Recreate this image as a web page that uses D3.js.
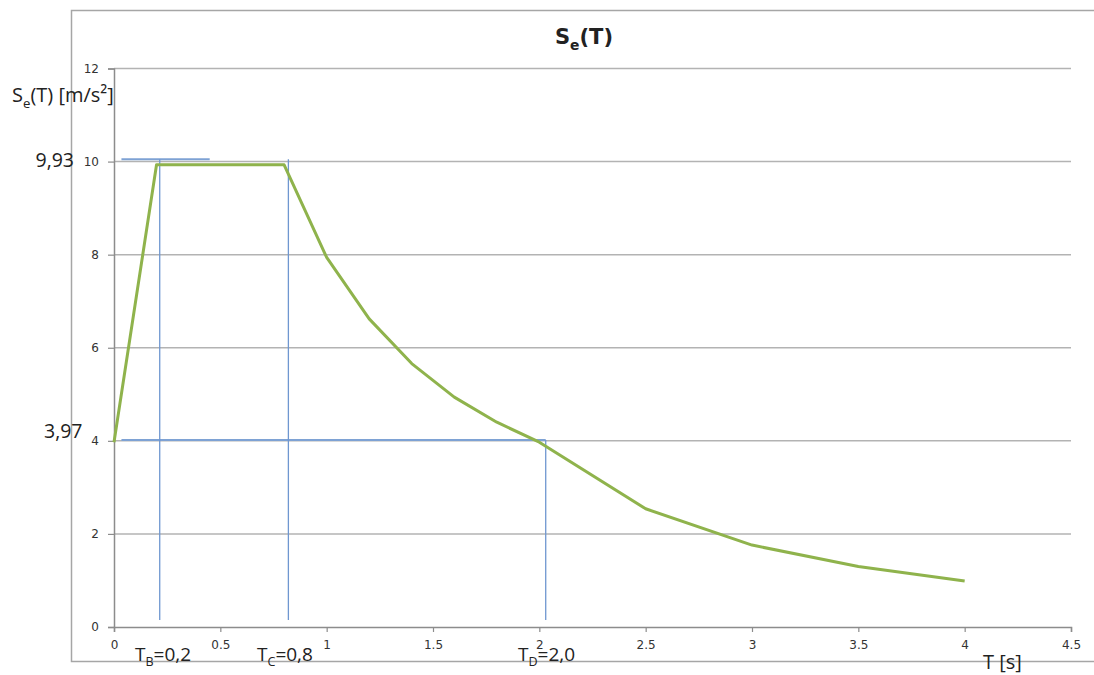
<!DOCTYPE html>
<html>
<head>
<meta charset="utf-8">
<script src="https://cdn.jsdelivr.net/npm/d3@7"></script>
<style>
  html, body { margin: 0; padding: 0; background: #fff; }
  svg { display: block; }
</style>
</head>
<body>
<svg id="chart" width="1094" height="675"></svg>
<script>
// Elastic response spectrum Se(T)
const periods = [0, 0.2, 0.8, 1.0, 1.2, 1.4, 1.6, 1.8, 2.0, 2.5, 3.0, 3.5, 4.0];
const seValues = [3.97, 9.93, 9.93, 7.94, 6.62, 5.66, 4.94, 4.40, 3.97, 2.54, 1.76, 1.30, 0.99];
const xTicks = [0, 0.5, 1, 1.5, 2, 2.5, 3, 3.5, 4, 4.5];
const yTicks = [0, 2, 4, 6, 8, 10, 12];

// blue guide lines (corner periods TB, TC, TD)
const guideH = [
  { y: 10.05, x0: 0.035, x1: 0.45 },
  { y: 4.02, x0: 0.035, x1: 2.03 }
];
const guideV = [
  { x: 0.215, y0: 0.15, y1: 10.05 },
  { x: 0.82, y0: 0.15, y1: 10.05 },
  { x: 2.03, y0: 0.15, y1: 4.02 }
];

const svg = d3.select('#chart');
const x = d3.scaleLinear().domain([0, 4.5]).range([114, 1071]);
const y = d3.scaleLinear().domain([0, 12]).range([627, 68.5]);

// outer chart frame (left, top, bottom visible)
svg.append('path')
  .attr('d', 'M1100,10.5 H71.5 V661.5 H1100')
  .attr('fill', 'none')
  .attr('stroke', '#a6a6a6')
  .attr('stroke-width', 1.5);

// horizontal gridlines
svg.append('g').selectAll('line').data(yTicks.filter(d => d > 0)).enter().append('line')
  .attr('x1', x(0)).attr('x2', x(4.5))
  .attr('y1', d => y(d)).attr('y2', d => y(d))
  .attr('stroke', '#b3b3b3')
  .attr('stroke-width', 1.5);

// axes
const yAxis = svg.append('g')
  .attr('transform', `translate(${x(0)},0)`)
  .call(d3.axisLeft(y).tickValues(yTicks).tickSize(6).tickPadding(9).tickFormat(d3.format('d')));
const xAxis = svg.append('g')
  .attr('transform', `translate(0,${y(0)})`)
  .call(d3.axisBottom(x).tickValues(xTicks).tickSize(5).tickPadding(8).tickFormat(d => String(d)));

[yAxis, xAxis].forEach(g => {
  g.select('.domain').attr('stroke', '#8c8c8c').attr('stroke-width', 1.5);
  g.selectAll('.tick line').attr('stroke', '#8c8c8c').attr('stroke-width', 1.2);
  g.selectAll('.tick text')
    .attr('fill', '#333')
    .style('font-family', 'DejaVu Sans, sans-serif')
    .style('font-size', '12px');
});

// guide lines
svg.append('g').selectAll('line.h').data(guideH).enter().append('line')
  .attr('x1', d => x(d.x0)).attr('x2', d => x(d.x1))
  .attr('y1', d => y(d.y)).attr('y2', d => y(d.y))
  .attr('stroke', '#7ea2d4')
  .attr('stroke-width', 2);
svg.append('g').selectAll('line.v').data(guideV).enter().append('line')
  .attr('x1', d => x(d.x)).attr('x2', d => x(d.x))
  .attr('y1', d => y(d.y0)).attr('y2', d => y(d.y1))
  .attr('stroke', '#6f97d0')
  .attr('stroke-width', 1.3);

// spectrum curve
const line = d3.line().x((d, i) => x(periods[i])).y(d => y(d));
svg.append('path')
  .datum(seValues)
  .attr('d', line)
  .attr('fill', 'none')
  .attr('stroke', '#8fb34c')
  .attr('stroke-width', 3)
  .attr('stroke-linejoin', 'round');

// text helpers
const font = 'Open Sans, sans-serif';
function subText(px, py, main, sub, rest, size, anchor, weight, family) {
  const t = svg.append('text')
    .attr('x', px).attr('y', py)
    .attr('text-anchor', anchor || 'start')
    .attr('fill', '#222')
    .style('font-family', family || font)
    .style('font-size', size + 'px')
    .style('font-weight', weight || 'normal');
  t.append('tspan').text(main);
  t.append('tspan').attr('dy', size * 0.28).style('font-size', (size * 0.66) + 'px').text(sub);
  t.append('tspan').attr('dy', -size * 0.28).text(rest);
  return t;
}
function plainText(px, py, str, size, anchor) {
  return svg.append('text')
    .attr('x', px).attr('y', py)
    .attr('text-anchor', anchor || 'start')
    .attr('fill', '#222')
    .style('font-family', font)
    .style('font-size', size + 'px')
    .text(str);
}

// title
subText(584, 44, 'S', 'e', '(T)', 21, 'middle', 'bold', 'DejaVu Sans, sans-serif');

// axis titles
subText(12, 102, 'S', 'e', '(T) [m/s²]', 20, 'start');
plainText(983, 669, 'T [s]', 20);

// value annotations
plainText(74, 167, '9,93', 19.5, 'end');
plainText(44, 438, '3,97', 19.5);

// corner period labels
subText(135, 661, 'T', 'B', '=0,2', 19, 'start');
subText(257, 661, 'T', 'C', '=0,8', 19, 'start');
subText(518, 661, 'T', 'D', '=2,0', 19, 'start');
</script>
</body>
</html>
